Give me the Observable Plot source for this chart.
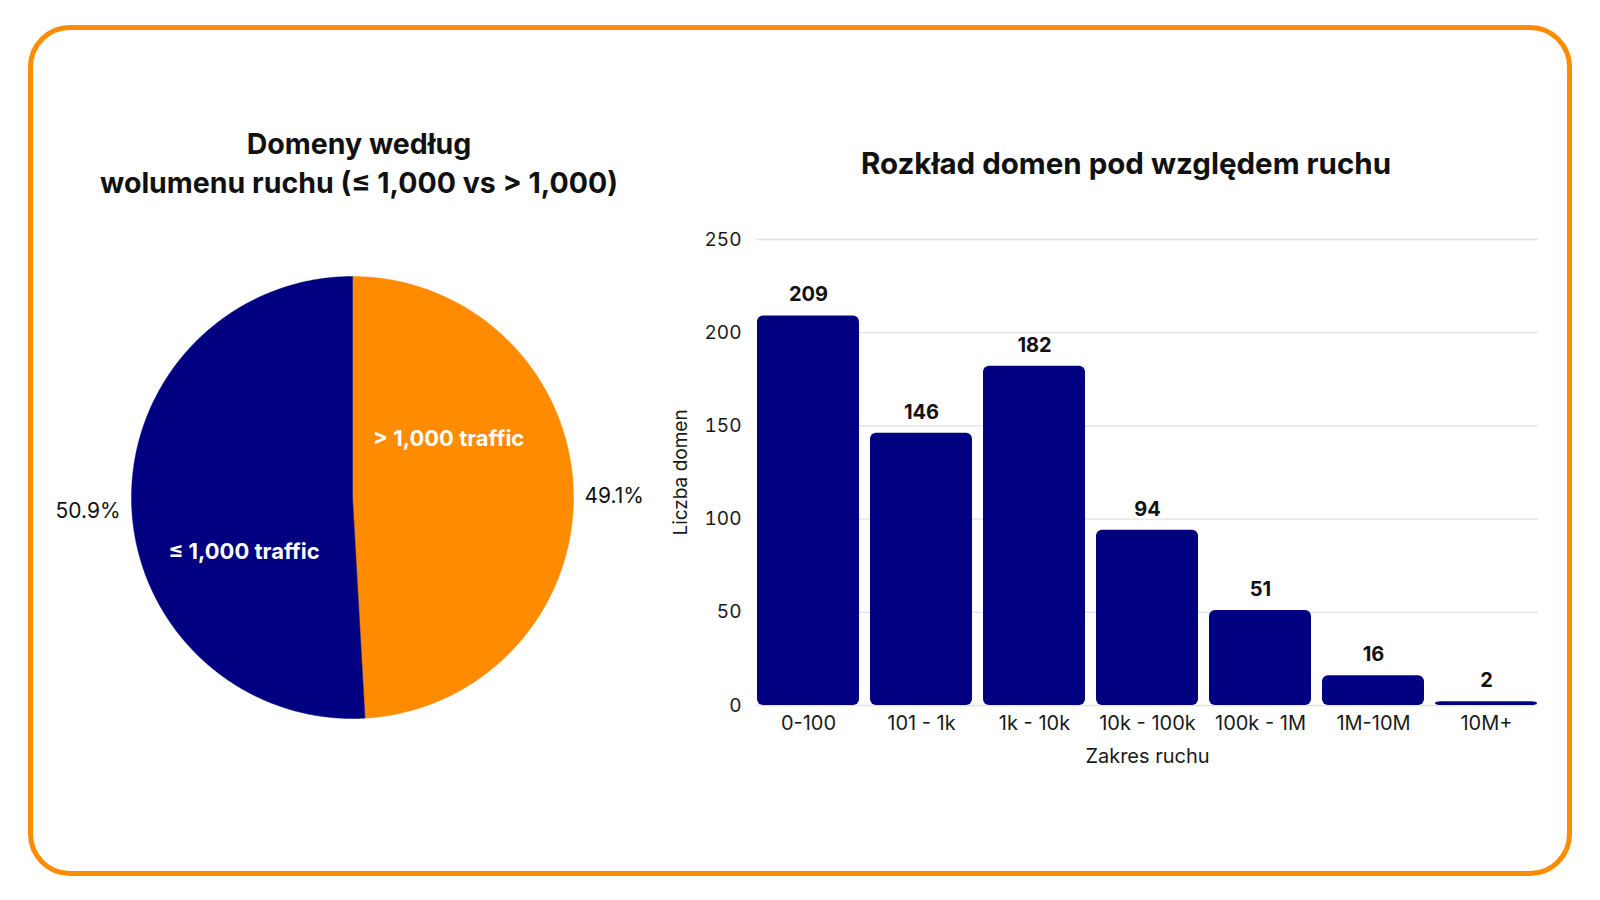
<!DOCTYPE html>
<html><head><meta charset="utf-8">
<script src="https://cdn.jsdelivr.net/npm/d3@7"></script>
<script src="https://cdn.jsdelivr.net/npm/@observablehq/plot@0.6"></script>
<style>
body{margin:0;width:1600px;height:900px;background:#fff;font-family:Inter,"Open Sans",sans-serif;position:relative;overflow:hidden}
#frame{position:absolute;left:28px;top:25px;width:1534px;height:841px;border:5px solid #FF8C00;border-radius:42px;}
.title{position:absolute;font-weight:700;font-size:28.5px;color:#111;text-align:center;line-height:39px;white-space:nowrap}
#pie,#bars{position:absolute}
</style></head><body>
<div id="frame"></div>
<div class="title" style="left:59px;width:600px;top:124px">Domeny według<br>wolumenu ruchu (≤ 1,000 vs &gt; 1,000)</div>
<div class="title" style="left:826px;width:600px;top:144px;font-size:29.5px">Rozkład domen pod względem ruchu</div>
<div id="pie" style="left:32px;top:237px"></div>
<div id="bars" style="left:660px;top:200px"></div>
<script>
// ---- data ----
const pieLabels = ["> 1,000 traffic", "≤ 1,000 traffic"];
const pieValues = [49.1, 50.9];
const pieColors = ["#FF8C00", "#000080"];
const barCategories = ["0-100", "101 - 1k", "1k - 10k", "10k - 100k", "100k - 1M", "1M-10M", "10M+"];
const barValues = [209, 146, 182, 94, 51, 16, 2];
const yTicks = [0, 50, 100, 150, 200, 250];

// ---- layout constants ----
const FONT = 'Inter, "Open Sans", sans-serif';
const W = 640, H = 520, R = 221;
const innerLabelShift = [-0.52, -0.44];   // angular shift of inside labels (radians)
const innerLabelRadius = [0.51, 0.55];

// ---- pie ----
const arcs = d3.pie().sort(null).startAngle(0).endAngle(2 * Math.PI)(pieValues)
  .map((a, i) => ({...a, label: pieLabels[i], mid: (a.startAngle + a.endAngle) / 2}));
const slicePts = [];
for (const a of arcs) {
  slicePts.push({key: a.label, x: 0, y: 0});
  const n = Math.ceil((a.endAngle - a.startAngle) / 0.005);
  for (let k = 0; k <= n; k++) {
    const t = a.startAngle + (a.endAngle - a.startAngle) * k / n;
    slicePts.push({key: a.label, x: Math.sin(t), y: Math.cos(t)});
  }
  slicePts.push({key: a.label, x: 0, y: 0});
}
const inner = arcs.map((a, i) => {
  const t = a.mid + innerLabelShift[i], r = innerLabelRadius[i];
  return {x: r * Math.sin(t), y: r * Math.cos(t), text: a.label};
});
const outer = arcs.map(a => ({x: 1.05 * Math.sin(a.mid), y: 1.05 * Math.cos(a.mid),
  text: a.value.toFixed(1) + "%", right: Math.sin(a.mid) > 0}));

const pie = Plot.plot({
  width: W, height: H, margin: 0,
  style: {fontFamily: FONT, background: "transparent"},
  x: {domain: [-W / 2 / R, W / 2 / R], axis: null},
  y: {domain: [-H / 2 / R, H / 2 / R], axis: null},
  color: {domain: pieLabels, range: pieColors},
  marks: [
    Plot.line(slicePts, {x: "x", y: "y", z: "key", fill: "key", stroke: "key", strokeWidth: 0.5, curve: "linear"}),
    Plot.text(inner, {x: "x", y: "y", text: "text", fill: "white", fontWeight: 700, fontSize: 22}),
    Plot.text(outer.filter(d => d.right), {x: "x", y: "y", text: "text", textAnchor: "start", dy: 5, fill: "#111", fontSize: 21}),
    Plot.text(outer.filter(d => !d.right), {x: "x", y: "y", text: "text", textAnchor: "end", dy: 7, fill: "#111", fontSize: 21})
  ]
});
document.getElementById("pie").appendChild(pie);

// ---- bars ----
const barData = barCategories.map((c, i) => ({cat: c, value: barValues[i]}));
const bars = Plot.plot({
  width: 900, height: 580,
  marginLeft: 96, marginRight: 22, marginTop: 39, marginBottom: 75,
  style: {fontFamily: FONT, fontSize: "19px", color: "#1a1a1a", background: "transparent"},
  x: {domain: barCategories, paddingInner: 0.1, paddingOuter: 0},
  y: {domain: [0, 250]},
  marks: [
    Plot.gridY(yTicks, {stroke: "#e2e2e2", strokeOpacity: 1, strokeWidth: 1.3}),
    Plot.barY(barData, {x: "cat", y: "value", fill: "#000080", inset: 0, rx: 6}),
    Plot.text(barData, {x: "cat", y: "value", text: d => String(d.value), dy: -21, fontWeight: 700, fontSize: 20, fill: "#111"}),
    Plot.axisX({tickSize: 0, tickPadding: 10, label: "Zakres ruchu", labelAnchor: "center", labelOffset: 57, labelArrow: false, fontSize: 20}),
    Plot.axisY(yTicks, {tickSize: 0, tickPadding: 15, label: "Liczba domen", labelAnchor: "center", labelOffset: 83, labelArrow: false, fontSize: 19})
  ]
});
document.getElementById("bars").appendChild(bars);
</script>
</body></html>
